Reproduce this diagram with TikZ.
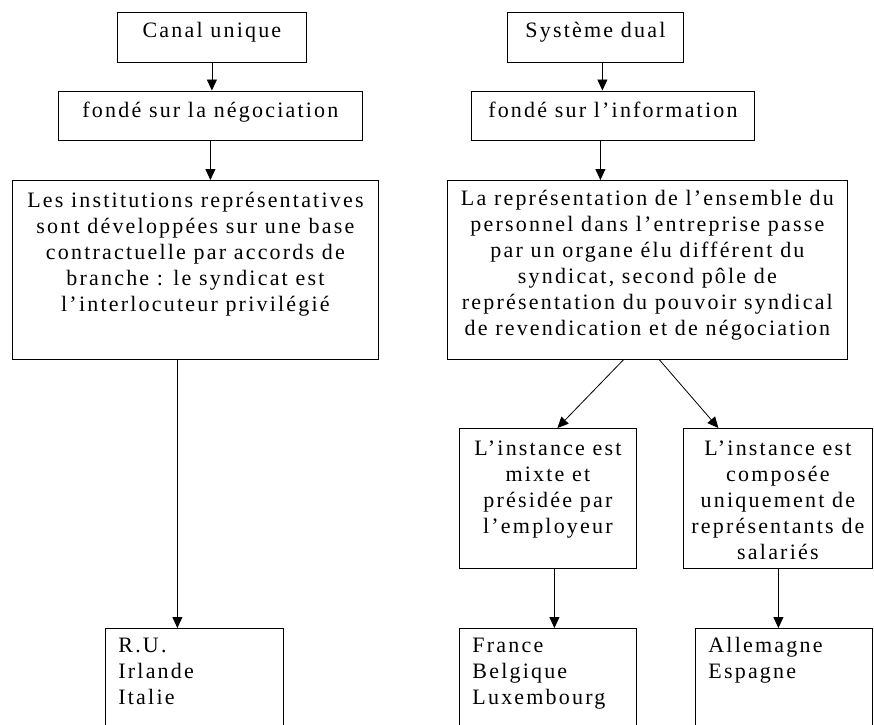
\documentclass[tikz,border=0pt]{standalone}
\usepackage{fontspec}
\setmainfont{Liberation Serif}[LetterSpace=10]
\usetikzlibrary{arrows.meta}

% box contents: width, height, top pad, text
\newcommand{\boxtxt}[4]{\parbox[c][#2][t]{#1}{\vspace*{#3}\centering\strut#4\par}}
\newcommand{\boxlist}[3]{\parbox[c][#2][t]{#1}{\vspace*{5.8pt}\raggedright\leftskip=13pt\strut#3\par}}

\begin{document}
\begin{tikzpicture}[x=1pt,y=-1pt,
    boite/.style={draw,line width=0.8pt,inner sep=0pt,anchor=north west,font=\fontsize{22}{26}\selectfont},
    fleche/.style={-{Triangle[length=11pt,width=10pt]},line width=0.8pt}]

\clip (0,0) rectangle (874,724);

% canal unique
\node[boite] (canal) at (117,11.5) {\boxtxt{189pt}{50pt}{7.8pt}{Canal unique}};
\node[boite] (nego) at (58,90.5) {\boxtxt{304pt}{49.5pt}{8.3pt}{fondé sur la négociation}};
\node[boite] (instit) at (12,180) {\boxtxt{366pt}{179pt}{8.5pt}{Les institutions représentatives\\
  sont développées sur une base\\ contractuelle par accords de\\
  branche : le syndicat est\\ l’interlocuteur privilégié}};
\node[boite] (ru) at (105,628) {\boxlist{178pt}{102pt}{R.U.\\ Irlande\\ Italie}};

% systeme dual
\node[boite] (dual) at (507,11.5) {\boxtxt{176pt}{50pt}{7.8pt}{Système dual}};
\node[boite] (info) at (471,90.5) {\boxtxt{283pt}{49.5pt}{8.3pt}{fondé sur l’information}};
\node[boite] (repr) at (447,180) {\boxtxt{400pt}{179pt}{7pt}{La représentation de l’ensemble du\\
  personnel dans l’entreprise passe\\ par un organe élu différent du\\
  syndicat, second pôle de\\ représentation du pouvoir syndical\\
  de revendication et de négociation}};
\node[boite] (mixte) at (459,428) {\boxtxt{177pt}{140pt}{8.8pt}{L’instance est\\ mixte et\\
  présidée par\\ l’employeur}};
\node[boite] (compo) at (683,428) {\boxtxt{189pt}{140pt}{8.8pt}{L’instance est\\ composée\\
  uniquement de\\ représentants de\\ salariés}};
\node[boite] (fr) at (459,628) {\boxlist{177pt}{102pt}{France\\ Belgique\\ Luxembourg}};
\node[boite] (all) at (695,628) {\boxlist{177pt}{102pt}{Allemagne\\ Espagne}};

\draw[fleche] (canal.south) -- (canal.south |- nego.north);
\draw[fleche] (nego.south) -- (nego.south |- instit.north);
\draw[fleche] ([xshift=-18pt]instit.south) -- ([xshift=-17pt]ru.north);

\draw[fleche] ([xshift=7pt]dual.south) -- ([xshift=-10.5pt]info.north);
\draw[fleche] ([xshift=-12.5pt]info.south) -- ([xshift=-47pt]repr.north);
\draw[fleche] ([xshift=-24pt]repr.south) -- ([xshift=9.5pt]mixte.north);
\draw[fleche] ([xshift=12pt]repr.south) -- ([xshift=-59.5pt]compo.north);
\draw[fleche] ([xshift=6.5pt]mixte.south) -- ([xshift=6.5pt]fr.north);
\draw[fleche] ([xshift=0.5pt]compo.south) -- ([xshift=-5.5pt]all.north);

\end{tikzpicture}
\end{document}
